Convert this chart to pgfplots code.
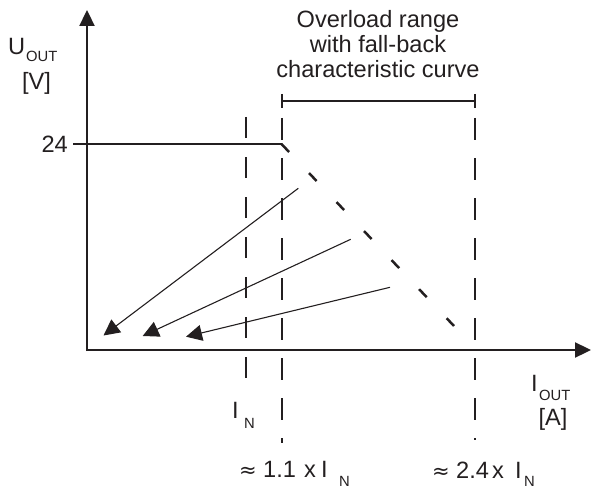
\documentclass[border=0pt]{standalone}
\usepackage{fontspec}
\setmainfont{Liberation Sans}
\newfontfamily\djv{DejaVu Sans}
\usepackage{pgfplots}
\pgfplotsset{compat=1.18}
\usetikzlibrary{arrows.meta}
\definecolor{ink}{HTML}{231F20}
\newcommand\bigf{\fontsize{23.6bp}{25bp}\selectfont}
\newcommand\subf{\fontsize{14.8bp}{16bp}\selectfont}
\begin{document}
\begin{tikzpicture}
\begin{axis}[scale only axis, width=593bp, height=488bp,
  xmin=0, xmax=593, ymin=0, ymax=488, y dir=reverse,
  hide axis, clip=false]
\addplot[draw=none] coordinates {(0,0) (593,488)};
% axes
\addplot[ink, line width=2.3bp, -{Triangle[length=16bp,width=15bp]}] coordinates {(87,351) (87,10)};
\addplot[ink, line width=2.3bp, -{Triangle[length=16bp,width=15bp]}] coordinates {(86,350) (591,350)};
% characteristic
\addplot[ink, line width=2.3bp] coordinates {(73,144) (282,144)};
\addplot[ink, line width=2.5bp, dash pattern=on 11bp off 29bp] coordinates {(281.5,144) (454,326)};
% vertical dashed lines
\addplot[ink, line width=2.5bp, dash pattern=on 21bp off 19bp] coordinates {(246,117) (246,378)};
\addplot[ink, line width=2.5bp, dash pattern=on 22bp off 18bp] coordinates {(282,118) (282,443)};
\addplot[ink, line width=2.5bp, dash pattern=on 22bp off 18bp] coordinates {(475,118) (475,440)};
% bracket
\addplot[ink, line width=2.3bp] coordinates {(282,101) (475,101)};
\addplot[ink, line width=2.3bp] coordinates {(282,94) (282,108)};
\addplot[ink, line width=2.3bp] coordinates {(475,94) (475,108)};
% arrows
\addplot[ink, line width=1.1bp, -{Triangle[length=16bp,width=16bp]}] coordinates {(298.3,188.3) (103.5,335.5)};
\addplot[ink, line width=1.1bp, -{Triangle[length=16bp,width=16bp]}] coordinates {(350.7,239.3) (142.7,336)};
\addplot[ink, line width=1.1bp, -{Triangle[length=16bp,width=16bp]}] coordinates {(390,287.3) (186,336.7)};
% texts
\node[anchor=base, inner sep=0, text=ink] at (axis cs:378,28) {\bigf Overload range};
\node[anchor=base, inner sep=0, text=ink] at (axis cs:378,53) {\bigf with fall-back};
\node[anchor=base, inner sep=0, text=ink] at (axis cs:378,77.5) {\bigf characteristic curve};
\node[anchor=base east, inner sep=0, text=ink] at (axis cs:68,152.5) {\bigf 24};
\node[anchor=base west, inner sep=0, text=ink] at (axis cs:8,55) {\bigf U};
\node[anchor=base west, inner sep=0, text=ink] at (axis cs:26,62) {\subf OUT};
\node[anchor=base, inner sep=0, text=ink] at (axis cs:36.5,90) {\bigf [V]};
\node[anchor=base west, inner sep=0, text=ink] at (axis cs:531,391) {\bigf I};
\node[anchor=base west, inner sep=0, text=ink] at (axis cs:539,400) {\subf OUT};
\node[anchor=base, inner sep=0, text=ink] at (axis cs:553,425) {\bigf [A]};
\node[anchor=base west, inner sep=0, text=ink] at (axis cs:232,418) {\bigf I};
\node[anchor=base west, inner sep=0, text=ink] at (axis cs:244,428) {\subf N};
\node[anchor=base west, inner sep=0, text=ink] at (axis cs:239,477) {\djv\fontsize{21bp}{24bp}\selectfont ≈};
\node[anchor=base west, inner sep=0, text=ink] at (axis cs:263,477) {\bigf 1.1};
\node[anchor=base west, inner sep=0, text=ink] at (axis cs:304,477) {\bigf x};
\node[anchor=base west, inner sep=0, text=ink] at (axis cs:321,477) {\bigf I};
\node[anchor=base west, inner sep=0, text=ink] at (axis cs:339,486) {\subf N};
\node[anchor=base west, inner sep=0, text=ink] at (axis cs:432,478) {\djv\fontsize{21bp}{24bp}\selectfont ≈};
\node[anchor=base west, inner sep=0, text=ink] at (axis cs:456,478) {\bigf 2.4};
\node[anchor=base west, inner sep=0, text=ink] at (axis cs:492,478) {\bigf x};
\node[anchor=base west, inner sep=0, text=ink] at (axis cs:515,478) {\bigf I};
\node[anchor=base west, inner sep=0, text=ink] at (axis cs:524,486) {\subf N};
\end{axis}
\end{tikzpicture}
\end{document}
